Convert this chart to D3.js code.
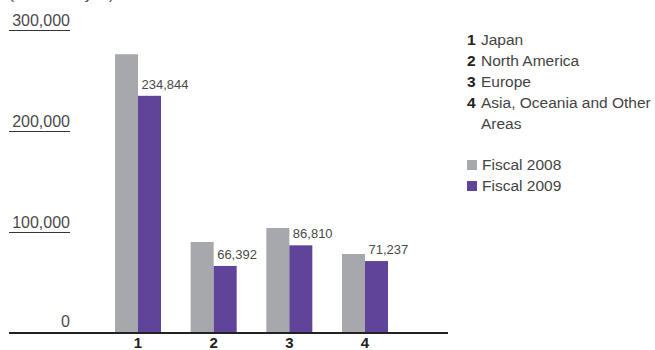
<!DOCTYPE html>
<html>
<head>
<meta charset="utf-8">
<script src="https://cdn.jsdelivr.net/npm/d3@7"></script>
<style>
  html, body { margin: 0; padding: 0; background: #fff; }
  svg { display: block; font-family: "Liberation Sans", Arial, Helvetica, sans-serif; }
</style>
</head>
<body>
<svg id="chart" width="655" height="350"></svg>
<script>
// Net sales by region (millions of yen)
const categories = ["1", "2", "3", "4"];
const regionNames = ["Japan", "North America", "Europe", "Asia, Oceania and Other", "Areas"];
const seriesNames = ["Fiscal 2008", "Fiscal 2009"];
const fiscal2008 = [276000, 90100, 104000, 78200];
const fiscal2009 = [234844, 66392, 86810, 71237];
const tickValues = [0, 100000, 200000, 300000];
const unitLabel = "(Millions of yen)";

const colors = ["#a7a8ab", "#60449a"];
const svg = d3.select("#chart");

const y = d3.scaleLinear().domain([0, 300000]).range([333, 30]);
const x = d3.scalePoint().domain(categories).range([138, 365]);
const barW = 23;
const x1 = d3.scaleBand().domain(seriesNames).range([-barW, barW]).padding(0);

const fmt = d3.format(",");

// unit caption, mostly above the visible area
svg.append("text").attr("x", 9).attr("y", -1)
  .attr("font-size", 15).attr("fill", "#444").text(unitLabel);

// value ticks: label with a short rule underneath
const ticks = svg.append("g");
tickValues.forEach(v => {
  if (v > 0) {
    ticks.append("line")
      .attr("x1", 9).attr("x2", 70)
      .attr("y1", y(v) + 0.5).attr("y2", y(v) + 0.5)
      .attr("stroke", "#333").attr("stroke-width", 1);
  }
  ticks.append("text")
    .attr("x", 70).attr("y", v > 0 ? y(v) - 4 : y(v) - 6)
    .attr("text-anchor", "end")
    .attr("font-size", 16).attr("fill", "#4a4a4a")
    .text(fmt(v));
});

// bars
const series = [fiscal2008, fiscal2009];
const bars = svg.append("g");
series.forEach((vals, si) => {
  bars.selectAll(null).data(categories).enter().append("rect")
    .attr("x", (c) => x(c) + x1(seriesNames[si]))
    .attr("width", x1.bandwidth())
    .attr("y", (c, i) => y(vals[i]))
    .attr("height", (c, i) => y(0) - y(vals[i]))
    .attr("fill", colors[si]);
});

// value labels for the current year
svg.append("g").selectAll("text").data(categories).enter().append("text")
  .attr("x", (c) => x(c) + x1(seriesNames[1]) + 3.5)
  .attr("y", (c, i) => y(fiscal2009[i]) - 7)
  .attr("font-size", 13).attr("fill", "#4a4a4a")
  .text((c, i) => fmt(fiscal2009[i]));

// baseline
svg.append("line")
  .attr("x1", 9).attr("x2", 448)
  .attr("y1", y(0)).attr("y2", y(0))
  .attr("stroke", "#222").attr("stroke-width", 2);

// category numbers
svg.append("g").selectAll("text").data(categories).enter().append("text")
  .attr("x", (c) => x(c))
  .attr("y", 348)
  .attr("text-anchor", "middle")
  .attr("font-size", 15).attr("font-weight", "bold").attr("fill", "#222")
  .text(c => c);

// legend: region key
const legend = svg.append("g");
const rows = [
  { num: "1", name: regionNames[0], y: 45 },
  { num: "2", name: regionNames[1], y: 66 },
  { num: "3", name: regionNames[2], y: 87 },
  { num: "4", name: regionNames[3], y: 108 },
  { num: "", name: regionNames[4], y: 129 }
];
rows.forEach(r => {
  if (r.num) {
    legend.append("text").attr("x", 467).attr("y", r.y)
      .attr("font-size", 15.5).attr("font-weight", "bold").attr("fill", "#222")
      .text(r.num);
  }
  legend.append("text").attr("x", 481).attr("y", r.y)
    .attr("font-size", 15.5).attr("fill", "#444")
    .text(r.name);
});

// legend: series key
seriesNames.forEach((s, i) => {
  const ly = 170 + i * 21;
  legend.append("rect").attr("x", 467).attr("y", ly - 10)
    .attr("width", 10).attr("height", 10).attr("fill", colors[i]);
  legend.append("text").attr("x", 482).attr("y", ly)
    .attr("font-size", 15.5).attr("fill", "#444").text(s);
});
</script>
</body>
</html>
